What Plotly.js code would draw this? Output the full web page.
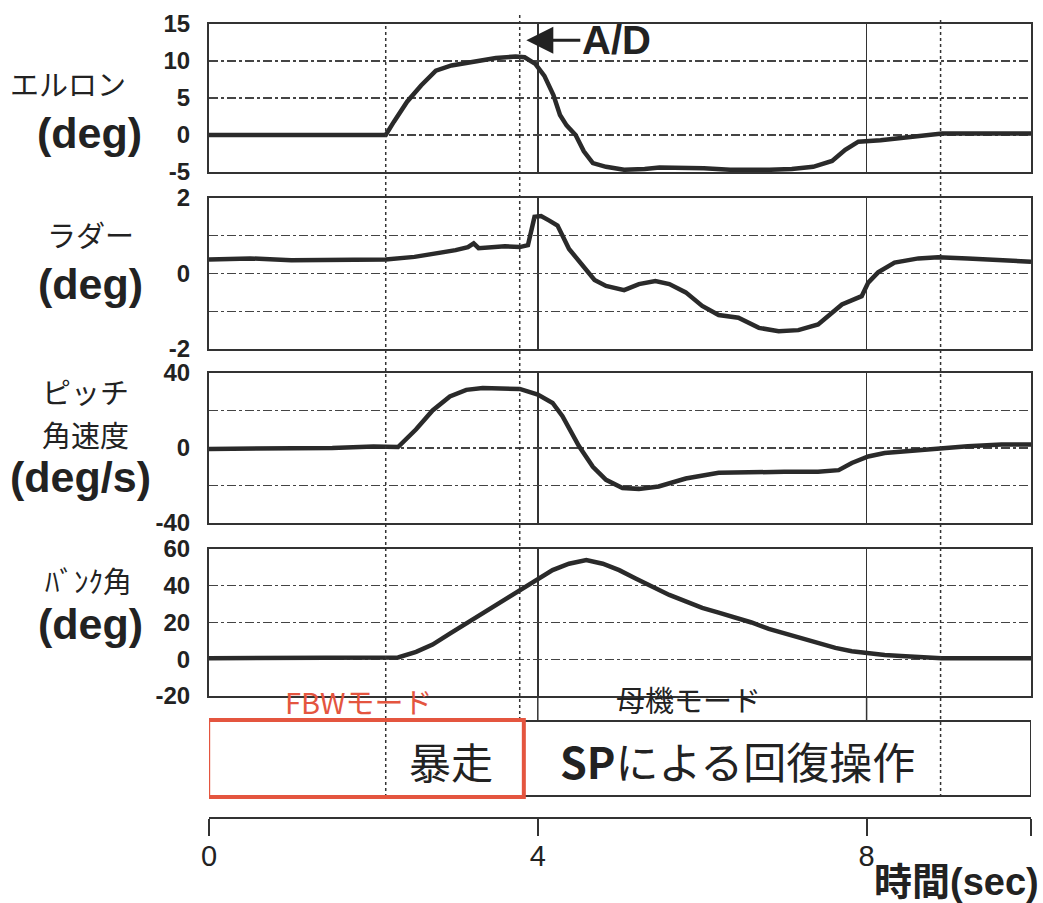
<!DOCTYPE html>
<html>
<head>
<meta charset="utf-8">
<script src="https://cdn.plot.ly/plotly-3.0.1.min.js"></script>
<style>html,body{margin:0;padding:0;background:#fff;}#chart{width:1043px;height:903px;}</style>
</head>
<body>
<div id="chart"></div>
<script>
// ---- Data ----
const aileronT = [0,0.5,1,1.5,2,2.15,2.25,2.41,2.58,2.76,2.95,3.22,3.49,3.73,3.84,3.97,4.08,4.19,4.27,4.35,4.46,4.56,4.67,4.83,5.05,5.3,5.48,6.02,6.34,6.82,7.09,7.35,7.58,7.74,7.9,8.17,8.44,8.7,8.92,9.5,10];
const aileronV = [0,0,0,0,0,0,1.8,4.5,6.7,8.7,9.4,9.9,10.4,10.6,10.5,9.6,8.0,5.4,2.7,1.3,0,-2.2,-3.8,-4.3,-4.7,-4.6,-4.4,-4.5,-4.7,-4.7,-4.6,-4.3,-3.5,-2.0,-0.9,-0.7,-0.4,0,0.2,0.2,0.2];

const rudderT = [0,0.5,1,1.5,2.15,2.5,2.8,3.0,3.15,3.22,3.28,3.4,3.6,3.78,3.88,3.96,4.04,4.14,4.24,4.38,4.55,4.69,4.83,5.05,5.23,5.43,5.6,5.8,6.0,6.2,6.44,6.69,6.93,7.17,7.41,7.58,7.7,7.94,8.02,8.14,8.34,8.63,8.87,9.23,9.64,10];
const rudderV = [0.37,0.4,0.35,0.35,0.37,0.44,0.53,0.62,0.7,0.8,0.67,0.69,0.72,0.7,0.75,1.5,1.52,1.4,1.27,0.65,0.2,-0.17,-0.33,-0.44,-0.28,-0.2,-0.28,-0.5,-0.86,-1.1,-1.17,-1.44,-1.53,-1.5,-1.35,-1.04,-0.82,-0.6,-0.24,0.03,0.29,0.4,0.43,0.4,0.36,0.31];

const pitchT = [0,0.5,1,1.5,2,2.15,2.3,2.52,2.72,2.93,3.13,3.33,3.55,3.78,4.0,4.18,4.3,4.5,4.67,4.83,5.03,5.23,5.47,5.8,6.2,6.6,7.0,7.41,7.66,7.82,8.02,8.22,8.63,8.91,9.23,9.64,10];
const pitchV = [-0.5,-0.5,0,0,0.8,0.5,0.5,10,20,27.5,31,32,32,31.5,28.5,24,17,1,-10,-17,-21.4,-21.8,-20.5,-16.3,-13.2,-12.7,-12.7,-12.7,-11.8,-8,-4.5,-2.7,-1.3,0,0.9,1.8,1.8];

const bankT = [0,0.5,1,1.5,2,2.15,2.3,2.52,2.72,2.93,3.13,3.33,3.54,3.78,4.0,4.18,4.38,4.59,4.79,4.99,5.19,5.39,5.6,5.8,6.0,6.2,6.4,6.6,6.81,7.01,7.21,7.41,7.62,7.82,8.02,8.22,8.42,8.63,8.91,9.5,10];
const bankV = [0.5,0.5,0.5,0.5,0.5,0.8,1,4,8,14,19.5,25,31,38,44,48.5,52,54,52,48.5,44,39.6,35,31.5,28,25.4,22.7,20,16.5,13.8,11.2,8.5,6.2,4.4,3.2,2.3,1.8,1.2,0.5,0.5,0.5];

const aileronTicks = [-5,0,5,10,15];
const aileronTickText = ['-5','0','5','10','15'];
const rudderTicks = [-2,-1,0,1,2];
const rudderTickText = ['-2','','0','','2'];
const pitchTicks = [-40,-20,0,20,40];
const pitchTickText = ['-40','','0','','40'];
const bankTicks = [-20,0,20,40,60];
const bankTickText = ['-20','0','20','40','60'];

const timeTicks = [0,4,8,10];
const timeTickText = ['0','4','8',''];

const dashedTimes = [2.15, 3.78, 8.9];   // dashed event markers
const solidTimes = [4, 8];               // solid grid lines

const panelLabels = [
  ['エルロン','(deg)'],
  ['ラダー','(deg)'],
  ['ピッチ','角速度','(deg/s)'],
  ['ﾊﾞﾝｸ角','(deg)']
];
const modeTexts = {fbw:'FBWモード', mother:'母機モード', runaway:'暴走', recovery:'<b>SP</b>による回復操作', ad:'A/D', timeTitle:'時間(sec)'};

// ---- Layout helpers ----
const W = 1043, H = 903;
const px2x = p => p / W;
const py2y = p => 1 - p / H;
const xDom = [px2x(209), px2x(1031)];
const ink = '#2a2a2a';
const red = '#e4553f';
const numFont = {family:'Liberation Sans, Arial, sans-serif', size:24, color:'#222', weight:'bold'};
const jpFont = {family:'Noto Sans CJK JP, sans-serif', size:29, color:'#222'};

function xAx(anchor){
  return {domain:xDom, range:[0,10], anchor:anchor, showticklabels:false, ticks:'',
    tickvals:solidTimes, showgrid:true, gridcolor:'#333', gridwidth:1.5, zeroline:false,
    showline:true, mirror:true, linecolor:'#333', linewidth:2, fixedrange:true};
}
function yAx(anchor, dom, range, tv, tt){
  return {domain:dom, range:range, anchor:anchor, tickvals:tv, ticktext:tt, ticks:'',
    tickfont:numFont, ticklabelstandoff:12, showgrid:true, gridcolor:'#444', gridwidth:1.2,
    griddash:'dashdot', zeroline:false, showline:true, mirror:true, linecolor:'#333', linewidth:2, fixedrange:true};
}
const lineStyle = {color:ink, width:4.5};

const traces = [
  {x:aileronT, y:aileronV, xaxis:'x', yaxis:'y', mode:'lines', line:lineStyle, hoverinfo:'skip'},
  {x:rudderT, y:rudderV, xaxis:'x2', yaxis:'y2', mode:'lines', line:lineStyle, hoverinfo:'skip'},
  {x:pitchT, y:pitchV, xaxis:'x3', yaxis:'y3', mode:'lines', line:lineStyle, hoverinfo:'skip'},
  {x:bankT, y:bankV, xaxis:'x4', yaxis:'y4', mode:'lines', line:lineStyle, hoverinfo:'skip'},
  {x:[0,10], y:[0,0], xaxis:'x5', yaxis:'y5', mode:'lines', line:{width:0}, hoverinfo:'skip'}
];

const shapes = [];
const dashedExt = {2.15:[797,24], 3.78:[720,14], 8.9:[797,18]};
dashedTimes.forEach(t => {
  const e = dashedExt[t];
  shapes.push({type:'line', xref:'x', yref:'paper', x0:t, x1:t, y0:py2y(e[0]), y1:py2y(e[1]),
    line:{color:'#333', width:1.5, dash:'dot'}, layer:'above'});
});
solidTimes.forEach(t => {
  shapes.push({type:'line', xref:'x', yref:'paper', x0:t, x1:t, y0:py2y(720), y1:py2y(696),
    line:{color:'#333', width:1.5}});
});
shapes.push({type:'rect', xref:'x', yref:'paper', x0:0, x1:10, y0:py2y(796), y1:py2y(721),
  line:{color:'#333', width:2}, fillcolor:'rgba(0,0,0,0)'});
shapes.push({type:'rect', xref:'x', yref:'paper', x0:-0.01, x1:3.83, y0:py2y(797), y1:py2y(720),
  line:{color:red, width:4}, fillcolor:'rgba(0,0,0,0)'});

const annotations = [];
function lab(text, cx, cy, font){
  annotations.push({text:text, xref:'paper', yref:'paper', x:px2x(cx), y:py2y(cy),
    xanchor:'center', yanchor:'middle', showarrow:false, font:font});
}
const degFont = {family:'Liberation Sans, Arial, sans-serif', size:43, color:'#222', weight:'bold'};
lab(panelLabels[0][0], 68, 83, jpFont);
lab(panelLabels[0][1], 89, 133, degFont);
lab(panelLabels[1][0], 90, 234, jpFont);
lab(panelLabels[1][1], 90, 284, degFont);
lab(panelLabels[2][0], 85, 391, jpFont);
lab(panelLabels[2][1], 85, 434, jpFont);
lab(panelLabels[2][2], 80, 477, degFont);
lab(panelLabels[3][0], 88, 580, jpFont);
lab(panelLabels[3][1], 90, 624, degFont);

lab(modeTexts.fbw, 358, 701, {family:'Noto Sans CJK JP, sans-serif', size:29, color:red});
lab(modeTexts.mother, 688, 699, {family:'Noto Sans CJK JP, sans-serif', size:29, color:'#222'});
lab(modeTexts.runaway, 451, 760, {family:'Noto Sans CJK JP, sans-serif', size:42, color:'#222'});
lab(modeTexts.recovery, 737, 760, {family:'Noto Sans CJK JP, sans-serif', size:43, color:'#222'});
annotations.push({text:modeTexts.timeTitle, xref:'paper', yref:'paper', x:px2x(1041), y:py2y(882),
  xanchor:'right', yanchor:'middle', showarrow:false,
  font:{family:'Liberation Sans, Noto Sans CJK JP, sans-serif', size:38, color:'#222', weight:'bold'}});
annotations.push({text:modeTexts.ad, xref:'x', yref:'y', x:3.86, y:12.8, ax:90, ay:0,
  showarrow:true, arrowhead:2, arrowsize:1.8, arrowwidth:3, arrowcolor:'#222', standoff:0,
  font:{family:'Liberation Sans Narrow, Liberation Sans, Arial, sans-serif', size:40, color:'#222', weight:'bold'}});

const layout = {
  width:W, height:H, margin:{l:0,r:0,t:0,b:0}, showlegend:false,
  paper_bgcolor:'#ffffff', plot_bgcolor:'rgba(0,0,0,0)',
  xaxis: xAx('y'), xaxis2: xAx('y2'), xaxis3: xAx('y3'), xaxis4: xAx('y4'),
  yaxis: yAx('x', [py2y(172), py2y(24)], [-5,15], aileronTicks, aileronTickText),
  yaxis2: yAx('x2', [py2y(349), py2y(198)], [-2,2], rudderTicks, rudderTickText),
  yaxis3: yAx('x3', [py2y(523), py2y(373)], [-40,40], pitchTicks, pitchTickText),
  yaxis4: yAx('x4', [py2y(696), py2y(549)], [-20,60], bankTicks, bankTickText),
  xaxis5: {domain:xDom, range:[0,10], anchor:'y5', tickvals:timeTicks, ticktext:timeTickText,
    ticks:'outside', ticklen:17, tickwidth:2, tickcolor:'#333', showline:true, linecolor:'#333', linewidth:2,
    showgrid:false, zeroline:false, fixedrange:true, ticklabelstandoff:-5,
    tickfont:{family:'Liberation Sans Narrow, Liberation Sans, Arial, sans-serif', size:29, color:'#222'}},
  yaxis5: {domain:[py2y(817), py2y(815)], range:[0,1], anchor:'x5', visible:false, fixedrange:true},
  shapes:shapes, annotations:annotations
};
Plotly.newPlot('chart', traces, layout, {staticPlot:true, displayModeBar:false});
</script>
</body>
</html>
